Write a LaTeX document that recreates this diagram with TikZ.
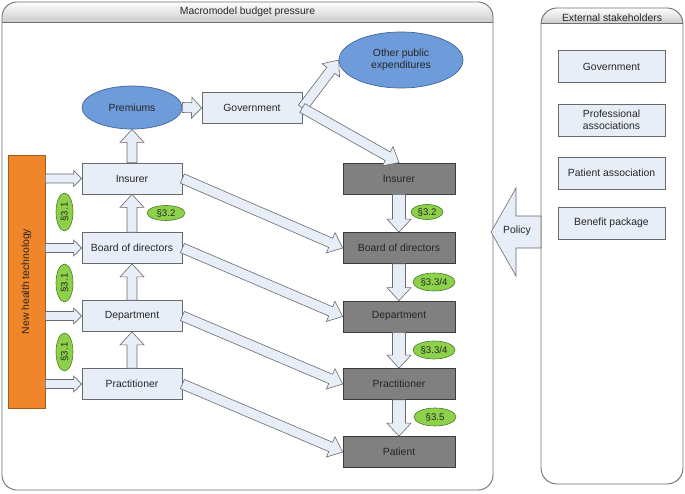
\documentclass[tikz,border=0pt]{standalone}
\usepackage{fontspec}
\setmainfont{Liberation Sans}
\usetikzlibrary{calc,shapes.geometric}
\definecolor{lfill}{HTML}{E8EEF7}
\definecolor{lborder}{HTML}{6A6A6A}
\definecolor{dfill}{HTML}{808080}
\definecolor{dborder}{HTML}{3C3C3C}
\definecolor{blueell}{HTML}{6E9BD9}
\definecolor{blueborder}{HTML}{44659A}
\definecolor{greenfill}{HTML}{8DD14B}
\definecolor{greenborder}{HTML}{4E7A28}
\definecolor{orangefill}{HTML}{F0862A}
\definecolor{orangeborder}{HTML}{A65A18}
\definecolor{txt}{HTML}{262626}
\definecolor{panelline}{HTML}{6E6E6E}
\newcommand\blockarr[5]{%
  \coordinate (ba-b) at ($(#2)!#5!(#1)$);
  \draw[barrow] ($(#1)!#3!90:(#2)$) -- ($(ba-b)!#3!-90:(#1)$) -- ($(ba-b)!#4!-90:(#1)$) -- (#2) -- ($(ba-b)!#4!90:(#1)$) -- ($(ba-b)!#3!90:(#1)$) -- ($(#1)!#3!-90:(#2)$) -- cycle;}
\tikzset{
  every node/.style={font=\fontsize{10.4}{12}\selectfont, text=txt},
  barrow/.style={draw=lborder, fill=lfill, line width=0.6pt, line join=miter},
  lbox/.style={draw=lborder, fill=lfill, line width=0.7pt, minimum width=100pt, minimum height=31pt, inner sep=1pt},
  dbox/.style={draw=dborder, fill=dfill, line width=0.7pt, minimum width=112pt, minimum height=31pt, inner sep=1pt},
  sbox/.style={draw=lborder, fill=lfill, line width=0.7pt, minimum width=107pt, minimum height=32pt, inner sep=1pt, align=center, font=\fontsize{10.4}{12.5}\selectfont},
  bell/.style={ellipse, draw=blueborder, fill=blueell, line width=0.7pt, inner sep=0pt, align=center, font=\fontsize{10.4}{12.5}\selectfont},
  gell/.style={ellipse, draw=greenborder, fill=greenfill, line width=0.6pt, inner sep=0pt, font=\fontsize{9.6}{11}\selectfont},
  panel/.style={draw=panelline, line width=0.9pt},
}
\begin{document}
\begin{tikzpicture}[x=1pt, y=-1pt]
\useasboundingbox (0,0) rectangle (685,494);
% panels
\begin{scope}
  \clip[rounded corners=15pt] (2,2) rectangle (493,490);
  \shade[top color=white, bottom color=black!20] (2,2) rectangle (493,22);
\end{scope}
\draw[panel, rounded corners=15pt] (2,2) rectangle (493,490);
\draw[panel] (2,22) -- (493,22);
\node (title1) at (247.5,11.5) {Macromodel budget pressure};
\begin{scope}
  \clip[rounded corners=16pt] (541,8) rectangle (683,484);
  \shade[top color=white, bottom color=black!20] (541,8) rectangle (683,23);
\end{scope}
\draw[panel, rounded corners=16pt] (541,8) rectangle (683,484);
\draw[panel] (541,23) -- (683,23);
\node (title2) at (612,17.5) {External stakeholders};
% stakeholders
\node[sbox] (sgov) at (611.5,66.5) {Government};
\node[sbox] (sprof) at (611.5,120) {Professional\\associations};
\node[sbox] (spat) at (611.5,173) {Patient association};
\node[sbox] (sben) at (611.5,223) {Benefit package};
% left column
\node[draw=orangeborder, fill=orangefill, line width=0.7pt, minimum width=37pt, minimum height=253pt, inner sep=0pt] (tech) at (26.5,281.5) {};
\node[rotate=90] (techlabel) at (tech.center) {New health technology};
\node[lbox] (ins) at (132,178.5) {Insurer};
\node[lbox] (bod) at (132,248) {Board of directors};
\node[lbox] (dep) at (132,316) {Department};
\node[lbox] (pra) at (132,384) {Practitioner};
\node[bell, minimum width=100pt, minimum height=43pt] (prem) at (132,107.5) {Premiums};
\node[lbox] (gov) at (252,108) {Government};
\node[bell, minimum width=124pt, minimum height=56pt] (oth) at (401,60) {Other public\\expenditures};
% right column
\node[dbox] (rins) at (399,178.5) {Insurer};
\node[dbox] (rbod) at (399,248) {Board of directors};
\node[dbox] (rdep) at (399,316.5) {Department};
\node[dbox] (rpra) at (399,384) {Practitioner};
\node[dbox] (rpat) at (399,452) {Patient};
% arrows: technology to left boxes
\coordinate (t1) at (tech.east |- ins.west);
\coordinate (t2) at (tech.east |- bod.west);
\coordinate (t3) at (tech.east |- dep.west);
\coordinate (t4) at (tech.east |- pra.west);
\blockarr{t1}{ins.west}{4.5pt}{8pt}{8pt}
\blockarr{t2}{bod.west}{4.5pt}{8pt}{8pt}
\blockarr{t3}{dep.west}{4.5pt}{8pt}{8pt}
\blockarr{t4}{pra.west}{4.5pt}{8pt}{8pt}
% vertical up arrows
\blockarr{ins.north}{prem.south}{5pt}{12pt}{13pt}
\blockarr{bod.north}{ins.south}{5pt}{12pt}{13pt}
\blockarr{dep.north}{bod.south}{5pt}{12pt}{13pt}
\blockarr{pra.north}{dep.south}{5pt}{12pt}{13pt}
% premiums -> government
\blockarr{prem.east}{gov.west}{5pt}{10.5pt}{10pt}
% government -> others
\blockarr{gov.east}{oth.west}{5pt}{11pt}{13pt}
\blockarr{gov.east}{rins.north}{5pt}{11pt}{13pt}
% diagonals
\blockarr{ins.east}{rbod.west}{5pt}{11pt}{13pt}
\blockarr{bod.east}{rdep.west}{5pt}{11pt}{13pt}
\blockarr{dep.east}{rpra.west}{5pt}{11pt}{13pt}
\blockarr{pra.east}{rpat.west}{5pt}{11pt}{13pt}
% right column down arrows
\blockarr{rins.south}{rbod.north}{6.5pt}{12pt}{13pt}
\blockarr{rbod.south}{rdep.north}{6.5pt}{12pt}{13pt}
\blockarr{rdep.south}{rpra.north}{6.5pt}{12pt}{13pt}
\blockarr{rpra.south}{rpat.north}{6.5pt}{12pt}{13pt}
% policy arrow
\coordinate (polstart) at (541,232);
\coordinate (poltip) at (491,232);
\blockarr{polstart}{poltip}{16pt}{44pt}{25pt}
\node (policy) at (517,231) {Policy};
% section labels
\node[gell, rotate=90, minimum width=38pt, minimum height=17pt] (g31a) at (64.5,212) {§3.1};
\node[gell, rotate=90, minimum width=38pt, minimum height=17pt] (g31b) at (64.5,283) {§3.1};
\node[gell, rotate=90, minimum width=38pt, minimum height=17pt] (g31c) at (64.5,352) {§3.1};
\node[gell, minimum width=38pt, minimum height=15pt] (g32a) at (166,213) {§3.2};
\node[gell, minimum width=32pt, minimum height=15pt] (g32b) at (427,212) {§3.2};
\node[gell, minimum width=42pt, minimum height=18pt] (g334a) at (434,282) {§3.3/4};
\node[gell, minimum width=42pt, minimum height=18pt] (g334b) at (434,350) {§3.3/4};
\node[gell, minimum width=42pt, minimum height=18pt] (g35) at (435,417) {§3.5};
\end{tikzpicture}
\end{document}
